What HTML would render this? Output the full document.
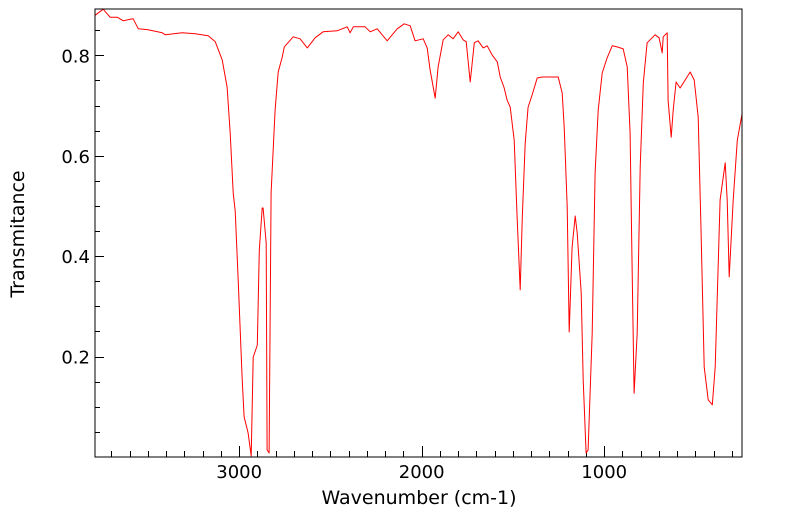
<!DOCTYPE html>
<html><head><meta charset="utf-8">
<style>
html,body{margin:0;padding:0;background:#fff;}
svg{display:block;font-family:"DejaVu Sans","Liberation Sans",sans-serif;}
</style></head>
<body>
<svg id="chart" width="799" height="516" viewBox="0 0 799 516" xmlns="http://www.w3.org/2000/svg">
  <rect x="95" y="9" width="647" height="448" fill="#fff"/>
  <g id="ticks"></g>
  <path id="spectrum" fill="none" stroke="#ff0000" stroke-width="1" stroke-linejoin="round"/>
  <rect x="95" y="9" width="647" height="448" fill="none" stroke="#000" stroke-width="1"/>
  <text x="419" y="504" font-size="19" text-anchor="middle">Wavenumber (cm-1)</text>
  <text transform="translate(24,234) rotate(-90)" font-size="19" text-anchor="middle">Transmitance</text>
</svg>
<script>
const wavenumbers = [3789,3745,3707,3668,3636,3581,3553,3499,3422,3405,3312,3241,3170,3131,3093,3066,3049,3033,3022,3005,2984,2973,2951,2934,2923,2901,2890,2874,2869,2852,2847,2836,2825,2803,2786,2764,2753,2704,2666,2627,2584,2540,2463,2408,2392,2375,2310,2282,2244,2189,2134,2096,2063,2036,1992,1970,1954,1926,1910,1882,1855,1828,1800,1773,1756,1734,1712,1691,1663,1641,1614,1586,1570,1548,1532,1515,1493,1477,1460,1449,1433,1417,1395,1367,1340,1252,1230,1219,1203,1192,1176,1159,1148,1126,1115,1099,1088,1066,1050,1033,1011,984,956,929,896,874,858,847,836,819,803,786,765,721,699,682,677,655,650,633,622,606,584,529,507,485,469,452,430,408,392,365,337,326,315,293,271,244];
const transmittance = [0.880,0.892,0.876,0.876,0.869,0.873,0.853,0.851,0.845,0.841,0.845,0.843,0.839,0.827,0.791,0.737,0.645,0.526,0.490,0.347,0.159,0.080,0.048,0.002,0.199,0.223,0.412,0.496,0.496,0.426,0.014,0.008,0.526,0.691,0.767,0.797,0.817,0.837,0.833,0.815,0.835,0.847,0.849,0.857,0.845,0.857,0.857,0.847,0.853,0.829,0.853,0.863,0.859,0.829,0.833,0.815,0.771,0.715,0.777,0.831,0.841,0.833,0.847,0.831,0.827,0.747,0.825,0.829,0.815,0.819,0.801,0.787,0.757,0.735,0.711,0.697,0.631,0.478,0.333,0.478,0.625,0.697,0.721,0.755,0.757,0.757,0.725,0.657,0.498,0.249,0.418,0.480,0.446,0.327,0.153,0.008,0.014,0.247,0.566,0.691,0.765,0.795,0.819,0.817,0.813,0.777,0.645,0.378,0.127,0.247,0.578,0.745,0.825,0.841,0.835,0.805,0.837,0.845,0.711,0.637,0.691,0.747,0.735,0.767,0.751,0.677,0.446,0.179,0.114,0.104,0.179,0.512,0.586,0.512,0.359,0.512,0.631,0.685];
const xTickLabels = [3000,2000,1000];
const yTickLabels = [0.2,0.4,0.6,0.8];

const NS = "http://www.w3.org/2000/svg";
const X0 = 95, X1 = 742, Y0 = 9, Y1 = 457;
const WN_LEFT = 3790, WN_RIGHT = 245, T_BOTTOM = 0, T_TOP = 0.8924;
function xs(w){ return X0 + (WN_LEFT - w) / (WN_LEFT - WN_RIGHT) * (X1 - X0); }
function ys(t){ return Y1 - (t - T_BOTTOM) / (T_TOP - T_BOTTOM) * (Y1 - Y0); }

let d = "";
for (let i = 0; i < wavenumbers.length; i++) {
  d += (i ? "L" : "M") + xs(wavenumbers[i]).toFixed(1) + "," + ys(transmittance[i]).toFixed(1);
}
document.getElementById("spectrum").setAttribute("d", d);

const g = document.getElementById("ticks");
function line(x1,y1,x2,y2,name){
  const l = document.createElementNS(NS,"line");
  l.setAttribute("x1",x1);l.setAttribute("y1",y1);l.setAttribute("x2",x2);l.setAttribute("y2",y2);
  l.setAttribute("stroke","#000");l.setAttribute("stroke-width","1");
  
  
  g.appendChild(l);
}
function text(x,y,s,anchor,name){
  const t = document.createElementNS(NS,"text");
  t.setAttribute("x",x);t.setAttribute("y",y);t.setAttribute("font-size","18");t.setAttribute("text-anchor",anchor);
  t.textContent = s;
  
  
  g.appendChild(t);
}
for (let w = 300; w <= 3700; w += 100) {
  const x = Math.round(xs(w)) + 0.5;
  const major = w % 1000 === 0;
  line(x, Y1, x, Y1 - (major ? 11 : 6), major ? "x-major-tick" : "x-minor-tick");
}
xTickLabels.forEach(w => text(xs(w), 478, String(w), "middle", "x-tick-label"));
for (let k = 1; k <= 17; k++) {
  const t = k * 0.05;
  const y = Math.round(ys(t)) + 0.5;
  const major = k % 4 === 0;
  line(X0, y, X0 + (major ? 9 : 5), y, major ? "y-major-tick" : "y-minor-tick");
}
yTickLabels.forEach(t => text(90, ys(t) + 7, t.toFixed(1), "end", "y-tick-label"));
</script>
</body></html>
